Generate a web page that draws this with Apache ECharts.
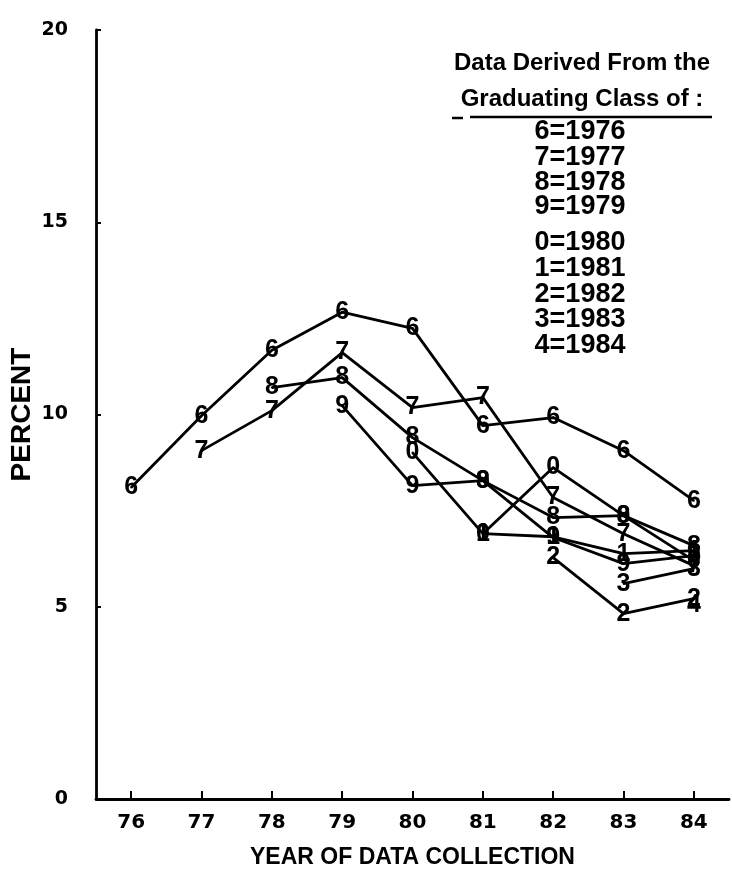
<!DOCTYPE html>
<html><head><meta charset="utf-8">
<script src="https://cdn.jsdelivr.net/npm/echarts@6/dist/echarts.min.js"></script>
<style>html,body{margin:0;padding:0;background:#fff;}#c{width:732px;height:874px;}</style>
</head><body><div id="c"></div>
<script>
const years = ['76','77','78','79','80','81','82','83','84'];
const class1976 = [8.10, 9.97, 11.67, 12.66, 12.24, 9.71, 9.92, 9.06, 7.76];
const class1977 = [null, 9.06, 10.10, 11.61, 10.18, 10.44, 7.84, 6.90, 6.07];
const class1978 = [null, null, 10.70, 10.96, 9.40, 8.28, 7.32, 7.37, 6.59];
const class1979 = [null, null, null, 10.23, 8.15, 8.28, 6.80, 6.12, 6.33];
const class1980 = [null, null, null, null, 9.01, 6.90, 8.62, 7.37, 6.20];
const class1981 = [null, null, null, null, null, 6.90, 6.82, 6.38, 6.46];
const class1982 = [null, null, null, null, null, null, 6.28, 4.82, 5.21];
const class1983 = [null, null, null, null, null, null, null, 5.60, 5.99];
const class1984 = [null, null, null, null, null, null, null, null, 5.03];
const classDigits = ['6','7','8','9','0','1','2','3','4'];
const classYears = ['1976','1977','1978','1979','1980','1981','1982','1983','1984'];
const legendTitle = ['Data Derived From the', 'Graduating Class of :'];
const xAxisTitle = 'YEAR OF DATA COLLECTION';
const yAxisTitle = 'PERCENT';

const allClasses = [class1976, class1977, class1978, class1979, class1980, class1981, class1982, class1983, class1984];

const chart = echarts.init(document.getElementById('c'), null, {renderer: 'canvas'});
const font = '"Liberation Sans", Arial, sans-serif';

const series = allClasses.map((d, i) => ({
  type: 'line',
  name: classYears[i],
  data: d,
  symbol: 'circle',
  symbolSize: 2,
  showSymbol: true,
  showAllSymbol: true,
  connectNulls: false,
  lineStyle: {color: '#000', width: 2.8},
  itemStyle: {color: '#000'},
  label: {
    show: true, position: 'inside', formatter: classDigits[i],
    color: '#000', fontSize: 25, fontWeight: 'bold', fontFamily: font
  },
  labelLayout: {hideOverlap: false},
  emphasis: {disabled: true},
  animation: false
}));

const rowY = [132, 158, 183, 207, 243, 269, 295, 320, 346];
const graphic = [];
legendTitle.forEach((t, i) => graphic.push({
  type: 'text', x: 582, y: [63, 99][i],
  style: {text: t, x: 0, y: 0, textAlign: 'center', textVerticalAlign: 'middle',
    font: 'bold 24px ' + font, fill: '#000'}
}));
graphic.push({type: 'line', shape: {x1: 470, y1: 117, x2: 712, y2: 117}, style: {stroke: '#000', lineWidth: 2.5}});
graphic.push({type: 'line', shape: {x1: 452, y1: 118, x2: 463, y2: 118}, style: {stroke: '#000', lineWidth: 2.5}});
classDigits.forEach((d, i) => graphic.push({
  type: 'text', x: 580, y: rowY[i],
  style: {text: d + '=' + classYears[i], x: 0, y: 0, textAlign: 'center', textVerticalAlign: 'middle',
    font: 'bold 27px ' + font, fill: '#000'}
}));

chart.setOption({
  animation: false,
  backgroundColor: '#fff',
  grid: {left: 96, right: 3, top: 30, bottom: 75, containLabel: false, outerBoundsMode: 'none'},
  xAxis: {
    type: 'category', data: years, boundaryGap: true,
    name: xAxisTitle, nameLocation: 'middle', nameGap: 47, nameMoveOverlap: false,
    nameTextStyle: {fontSize: 23, fontFamily: font, fontWeight: 'bold', color: '#000'},
    axisLine: {lineStyle: {color: '#000', width: 2.8}},
    axisTick: {show: true, inside: true, alignWithLabel: true, length: 8, lineStyle: {color: '#000', width: 2}},
    axisLabel: {color: '#000', fontSize: 20, fontWeight: 'bold', fontFamily: 'DejaVu Sans', margin: 14},
    splitLine: {show: false}
  },
  yAxis: {
    type: 'value', min: 0, max: 20, interval: 5,
    name: yAxisTitle, nameLocation: 'middle', nameGap: 60, nameRotate: 90, nameMoveOverlap: false,
    nameTextStyle: {fontSize: 28, fontFamily: font, fontWeight: 'bold', color: '#000'},
    axisLine: {show: true, lineStyle: {color: '#000', width: 2.8}},
    axisTick: {show: true, inside: true, length: 5, lineStyle: {color: '#000', width: 2}},
    axisLabel: {color: '#000', fontSize: 19, fontWeight: 'bold', fontFamily: 'DejaVu Sans', margin: 28},
    splitLine: {show: false}
  },
  series: series,
  graphic: graphic
});
</script>
</body></html>
